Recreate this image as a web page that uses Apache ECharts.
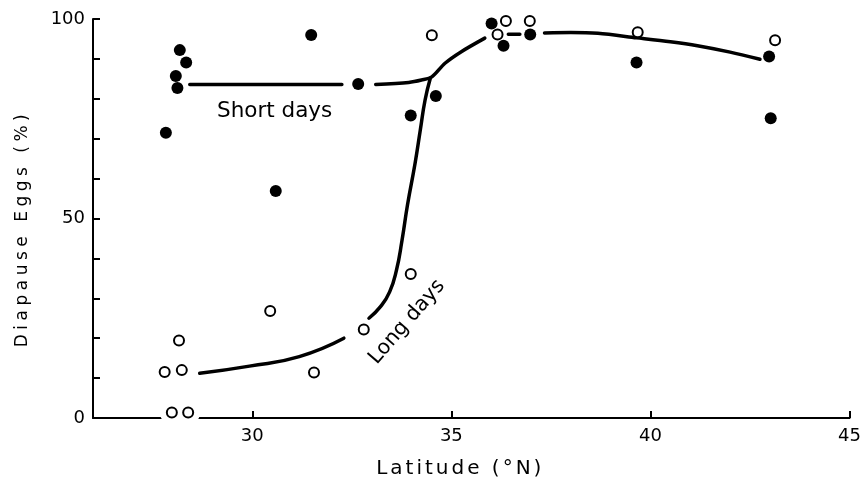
<!DOCTYPE html>
<html><head><meta charset="utf-8">
<script src="https://cdn.jsdelivr.net/npm/echarts@6/dist/echarts.min.js"></script>
<style>html,body{margin:0;padding:0;background:#fff}#c{width:864px;height:484px}</style>
</head><body><div id="c"></div>
<script>
// Tick values
const xTickValues = [30, 35, 40, 45];
const yLabelValues = [0, 50, 100];

// Observed points: short days (filled circles)
const shortDaysPoints = [
  [28.18, 92.2], [28.34, 89.1], [28.08, 85.7], [28.12, 82.7], [27.83, 71.5],
  [30.59, 56.9], [31.48, 96.0], [32.66, 83.7], [33.98, 75.8], [34.61, 80.7],
  [36.01, 98.9], [36.31, 93.3], [36.98, 96.1], [39.65, 89.1], [42.98, 90.6],
  [43.02, 75.1]
];

// Observed points: long days (open circles)
const longDaysPoints = [
  [34.51, 95.9], [36.37, 99.5], [36.16, 96.1], [36.97, 99.5], [39.68, 96.7],
  [43.13, 94.7], [30.45, 26.8], [28.16, 19.4], [27.80, 11.5], [28.23, 12.0],
  [27.98, 1.4], [28.39, 1.4], [31.55, 11.4], [32.80, 22.2], [33.98, 36.1]
];

// Fitted curves (null = drawn gap)
const shortDaysCurve = [
  [28.43, 83.6], [30.3, 83.6], [32.25, 83.6], null,
  [33.10, 83.6], [33.93, 84.1], [34.25, 84.7], [34.51, 85.5], [34.84, 88.9],
  [35.25, 91.8], [35.84, 95.2], null,
  [36.43, 96.2], [36.72, 96.2], null,
  [37.34, 96.5], [38.0, 96.6], [38.68, 96.4], [39.65, 95.3], [40.5, 94.3], [41.18, 93.3], [42.0, 91.7], [42.75, 89.9]
];
const longDaysCurve = [
  [28.68, 11.2], [29.93, 13.0], [31.18, 15.4], [32.30, 20.0], null,
  [32.93, 25.0], [33.22, 27.9], [33.45, 31.6], [33.62, 37.0], [33.76, 44.5], [33.90, 53.5],
  [34.09, 63.9], [34.22, 72.2], [34.34, 79.7], [34.47, 85.1]
];

// Axis titles are letter-spaced in the reference
const LETTER_SPACING = {'Latitude (°N)': '3px', 'Diapause Eggs (%)': '4.5px'};
(function () {
  const proto = CanvasRenderingContext2D.prototype;
  const origFill = proto.fillText;
  function draw(ctx, t, x, y, mw) {
    return mw === undefined ? origFill.call(ctx, t, x, y) : origFill.call(ctx, t, x, y, mw);
  }
  proto.fillText = function (t, x, y, mw) {
    if (!('letterSpacing' in this)) return draw(this, t, x, y, mw);
    const ls = LETTER_SPACING[t] || '0px';
    if (this.letterSpacing !== ls) {
      const f = this.font;
      this.letterSpacing = ls;
      this.font = f;
    }
    return draw(this, t, x, y, mw);
  };
})();

const FONT = 'DejaVu Sans';
const chart = echarts.init(document.getElementById('c'), null, {renderer: 'canvas'});
chart.setOption({
  backgroundColor: '#ffffff',
  animation: false,
  grid: {left: 93, right: 11, top: 19, bottom: 66, containLabel: false},
  xAxis: {
    type: 'value', min: 26, max: 45,
    name: 'Latitude (°N)', nameLocation: 'middle', nameGap: 41,
    nameTextStyle: {fontFamily: FONT, fontSize: 20, color: '#000', padding: [0, 22, 0, 0]},
    axisLine: {show: true, lineStyle: {color: '#000', width: 2}},
    axisTick: {show: true, inside: true, length: 7, lineStyle: {color: '#000', width: 2}, customValues: xTickValues},
    axisLabel: {fontFamily: FONT, fontSize: 18, color: '#000', margin: 9, customValues: xTickValues},
    splitLine: {show: false}
  },
  yAxis: {
    type: 'value', min: 0, max: 100, interval: 10,
    name: 'Diapause Eggs (%)', nameLocation: 'middle', nameGap: 62, nameRotate: 90,
    nameTextStyle: {fontFamily: FONT, fontSize: 17, color: '#000', padding: [0, 20, 0, 0]},
    axisLine: {show: true, lineStyle: {color: '#000', width: 2}},
    axisTick: {show: true, inside: true, length: 7, lineStyle: {color: '#000', width: 2}},
    axisLabel: {fontFamily: FONT, fontSize: 18, color: '#000', margin: 8,
      formatter: v => yLabelValues.indexOf(v) >= 0 ? String(v) : ''},
    splitLine: {show: false}
  },
  series: [
    {
      name: 'Short days curve', type: 'line', data: shortDaysCurve, smooth: 0.3,
      showSymbol: false, connectNulls: false,
      lineStyle: {color: '#000', width: 3.5, cap: 'round'}, z: 2
    },
    {
      name: 'Long days curve', type: 'line', data: longDaysCurve, smooth: 0.5,
      showSymbol: false, connectNulls: false,
      lineStyle: {color: '#000', width: 3.5, cap: 'round'}, z: 2
    },
    {
      name: 'axis gap', type: 'scatter', silent: true,
      data: longDaysPoints.filter(p => p[1] < 5),
      symbol: 'circle', symbolSize: 24, itemStyle: {color: '#fff', opacity: 1}, z: 3
    },
    {
      name: 'Short days', type: 'scatter', data: shortDaysPoints,
      symbol: 'circle', symbolSize: 12, itemStyle: {color: '#000', opacity: 1}, z: 4
    },
    {
      name: 'Long days', type: 'scatter', data: longDaysPoints,
      symbol: 'circle', symbolSize: 10,
      itemStyle: {color: '#fff', borderColor: '#000', borderWidth: 2, opacity: 1}, z: 4
    }
  ],
  graphic: [
    {type: 'text', left: 217, top: 100,
      style: {text: 'Short days', fontFamily: FONT, fontSize: 21.5, fill: '#000'}},
    {type: 'text', x: 407, y: 322, rotation: 49 * Math.PI / 180,
      style: {text: 'Long days', fontFamily: FONT, fontSize: 20.5, fill: '#000', align: 'center', verticalAlign: 'middle'}}
  ]
});
</script>
</body></html>
